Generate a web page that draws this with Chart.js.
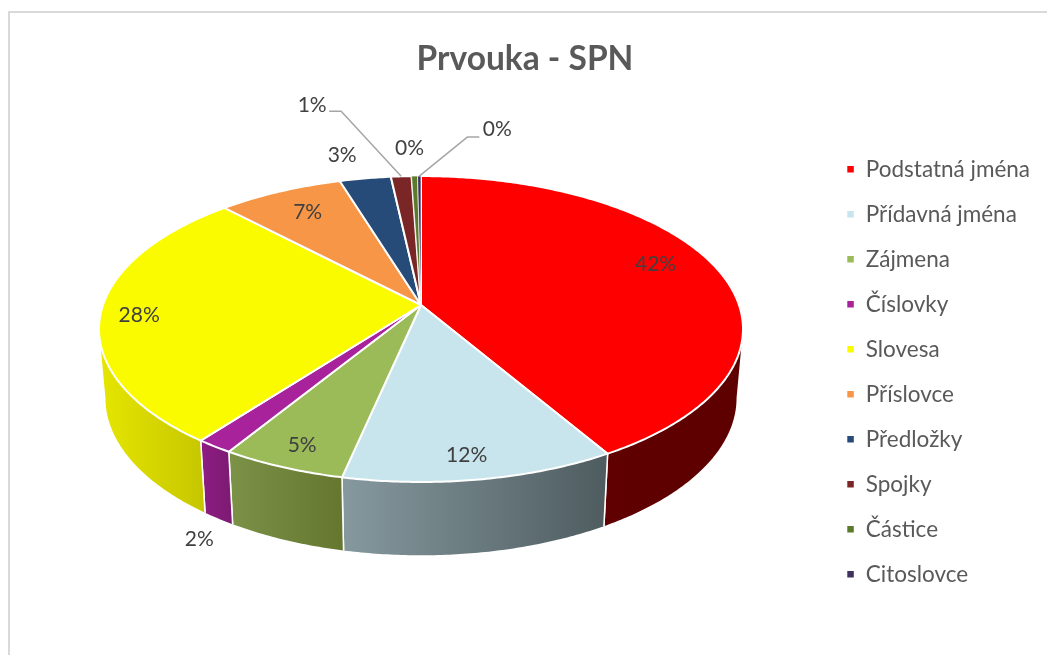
<!DOCTYPE html>
<html>
<head>
<meta charset="utf-8">
<style>html,body{margin:0;padding:0;background:#fff}#w{width:1047px;height:655px;position:relative}</style>
<script src="https://cdn.jsdelivr.net/npm/chart.js@4"></script>
</head>
<body>
<div id="w"><canvas id="c" width="1047" height="655"></canvas></div>
<script>
const titleText = 'Prvouka - SPN';
const categories = ['Podstatná jména','Přídavná jména','Zájmena','Číslovky','Slovesa','Příslovce','Předložky','Spojky','Částice','Citoslovce'];
const shares = [41.55,11.85,5.4,1.6,27.55,7.35,3.0,1.2,0.35,0.2];
const faceColors = ['#ff0000','#c8e4ec','#9bbb59','#a8229c','#fbfb00','#f79646','#264b78','#7b2626','#5c7a2c','#40315f'];
const wallLeft = ['#600000','#86999f','#7b9247','#8e1d83','#e6e600','#b86f34','#1c3859','#5c1c1c','#445b20','#302447'];
const wallRight = ['#5e0000','#4e5c5f','#65762f','#7c1a72','#c6c600','#b86f34','#1c3859','#5c1c1c','#445b20','#302447'];

// disc projection (perspective view of the pie)
const view = {cx:421, cy:305, rx:318, ry:149.2, tilt:-0.157, xShrink:0.98, depth:69, depthGrow:0.028, rimMid:328};
// label anchor: radius fraction on the slice mid-angle plus nudge
const labelPlace = [[.8,-3,-10],[.88,-6,0.5],[.85,-4,6],[1,-15,93],[.85,-10,3],[.85,9,5],[1,-23,-23],[1,-89,-71],[1,-5,-28],[1,78,-47]];
const leaders = {7:[-60,-65,-12], 9:[48,-39,12]};

function project(theta, r){
  const u = r*Math.cos(theta), v = r*Math.sin(theta), w = 1 + view.tilt*v;
  return [view.cx + view.rx*u/w, view.cy + view.ry*v/w];
}
function lower(p){
  return [view.cx + (p[0]-view.cx)*view.xShrink, p[1] + view.depth + view.depthGrow*(p[1]-view.rimMid)];
}
function samples(a,b){
  const n = Math.max(2, Math.ceil((b-a)/0.01)), out = [];
  for(let i=0;i<=n;i++) out.push(a+(b-a)*i/n);
  return out;
}
const pie3d = {
  id:'pie3d',
  beforeDraw(chart){
    const c = chart.ctx;
    c.save();
    c.strokeStyle='#d9d9d9'; c.lineWidth=2;
    c.strokeRect(9,12,1200,800);
    c.restore();
  },
  beforeDatasetsDraw(chart){
    const c = chart.ctx, arcs = chart.getDatasetMeta(0).data;
    const total = shares.reduce((s,x)=>s+x,0);
    const frontA = Math.asin(-view.tilt), frontB = Math.PI-frontA;
    c.save();
    c.lineJoin='round';
    // walls
    arcs.forEach((arc,i)=>{
      const a = Math.max(arc.startAngle,frontA), b = Math.min(arc.endAngle,frontB);
      if(b<=a) return;
      const top = samples(a,b).map(t=>project(t,1));
      const bot = top.map(lower);
      const xs = top.concat(bot).map(p=>p[0]);
      const g = c.createLinearGradient(Math.min(...xs),0,Math.max(...xs),0);
      g.addColorStop(0,wallLeft[i]); g.addColorStop(1,wallRight[i]);
      c.beginPath();
      top.forEach((p,k)=>k?c.lineTo(p[0],p[1]):c.moveTo(p[0],p[1]));
      bot.reverse().forEach(p=>c.lineTo(p[0],p[1]));
      c.closePath();
      c.fillStyle=g; c.fill();
      // white seams between wall segments
      c.strokeStyle='#fff'; c.lineWidth=1.5;
      const eA = arc.startAngle>=frontA, eB = arc.endAngle<=frontB;
      if(eA){c.beginPath();const p=project(a,1),q=lower(p);c.moveTo(p[0],p[1]);c.lineTo(q[0],q[1]);c.stroke();}
      if(eB){c.beginPath();const p=project(b,1),q=lower(p);c.moveTo(p[0],p[1]);c.lineTo(q[0],q[1]);c.stroke();}
    });
    // top faces
    arcs.forEach((arc,i)=>{
      c.beginPath();
      c.moveTo(view.cx,view.cy);
      samples(arc.startAngle,arc.endAngle).forEach(t=>{const p=project(t,1);c.lineTo(p[0],p[1]);});
      c.closePath();
      c.fillStyle=faceColors[i]; c.fill();
      c.strokeStyle='#fff'; c.lineWidth= shares[i]<1 ? 0.7 : 2; c.stroke();
    });
    // leader lines
    c.strokeStyle='#a6a6a6'; c.lineWidth=1.5;
    Object.keys(leaders).forEach(k=>{
      const arc=arcs[k], l=leaders[k], p=project((arc.startAngle+arc.endAngle)/2,1);
      c.beginPath();c.moveTo(p[0],p[1]);c.lineTo(p[0]+l[0],p[1]+l[1]);c.lineTo(p[0]+l[0]+l[2],p[1]+l[1]);c.stroke();
    });
    // labels
    c.fillStyle='#404040'; c.font='21px Lato'; c.textAlign='center'; c.textBaseline='middle';
    arcs.forEach((arc,i)=>{
      const pl=labelPlace[i], p=project((arc.startAngle+arc.endAngle)/2,pl[0]);
      c.fillText(Math.round(shares[i]/total*100)+'%',p[0]+pl[1],p[1]+pl[2]);
    });
    c.restore();
    return false;
  }
};
new Chart(document.getElementById('c'),{
  type:'pie',
  data:{labels:categories,datasets:[{data:shares,backgroundColor:faceColors,borderColor:'#fff',borderWidth:1.5}]},
  options:{
    responsive:false,animation:false,
    layout:{padding:{top:0,bottom:47,left:10,right:7}},
    plugins:{
      tooltip:{enabled:false},
      title:{display:true,text:titleText,color:'#595959',font:{family:'Lato',size:33.5,weight:'bold'},padding:{top:39,bottom:8}},
      legend:{position:'right',align:'end',labels:{boxWidth:8,boxHeight:8,padding:22.5,color:'#595959',font:{family:'Lato',size:22.5}}}
    }
  },
  plugins:[pie3d]
});
</script>
</body>
</html>
